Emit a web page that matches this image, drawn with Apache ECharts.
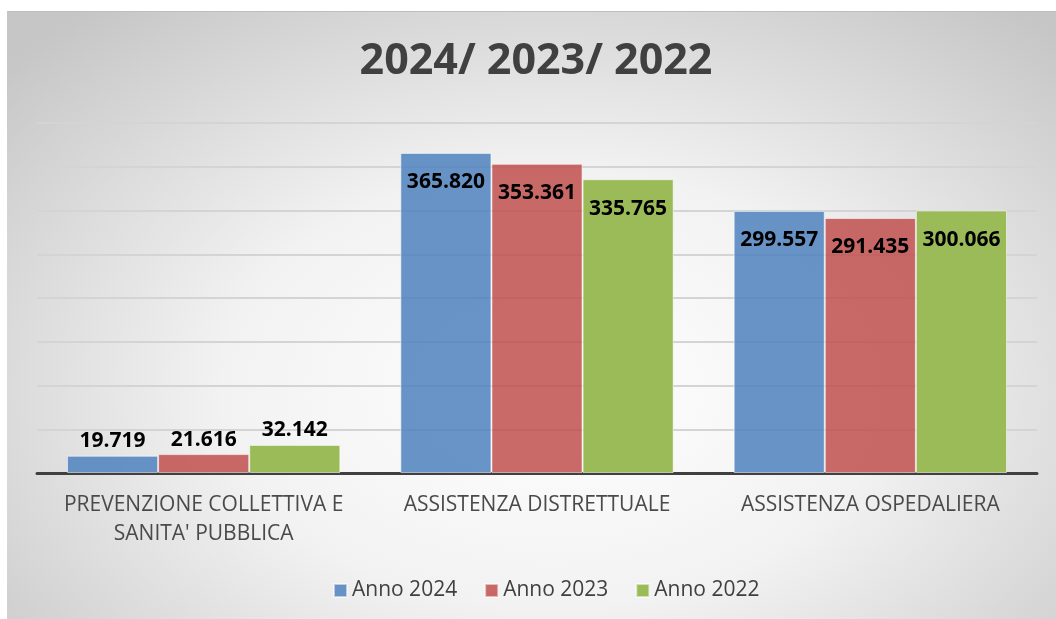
<!DOCTYPE html>
<html>
<head>
<meta charset="utf-8">
<script src="https://cdn.jsdelivr.net/npm/echarts@6/dist/echarts.min.js"></script>
<style>
  html, body { margin: 0; padding: 0; background: #fff; }
  #bg {
    position: absolute; left: 7px; top: 11px; width: 1049px; height: 608px;
    border-top: 1px solid #bdbdbd;
    background: radial-gradient(ellipse 70% 80% at 52% 62%, #ffffff 0%, #f2f2f2 45%, #c6c6c6 100%);
  }
  #chart { position: absolute; left: 0; top: 0; width: 1056px; height: 619px; }
</style>
</head>
<body>
<div id="bg"></div>
<div id="chart"></div>
<script>
// categorie e valori (migliaia, separatore italiano)
const categories = ['PREVENZIONE COLLETTIVA E\nSANITA\' PUBBLICA', 'ASSISTENZA DISTRETTUALE', 'ASSISTENZA OSPEDALIERA']
const anno2024 = [19719, 365820, 299557]
const anno2023 = [21616, 353361, 291435]
const anno2022 = [32142, 335765, 300066]
const seriesNames = ['Anno 2024', 'Anno 2023', 'Anno 2022']

const fmt = v => String(v).replace(/\B(?=(\d{3})+(?!\d))/g, '.')

function barData(values) {
  // prima categoria: etichetta sopra la barra, le altre dentro
  return values.map((v, i) => ({
    value: v,
    label: i === 0 ? { position: 'top', distance: 4 } : { position: 'insideTop', distance: 19 }
  }))
}

function makeSeries(name, values, color) {
  return {
    name: name,
    type: 'bar',
    barGap: '0%',
    barCategoryGap: '18%',
    itemStyle: { color: color, borderColor: 'rgba(255,255,255,0.55)', borderWidth: 1 },
    label: {
      show: true,
      color: '#000',
      fontFamily: 'Open Sans',
      fontWeight: 'bold',
      fontSize: 21,
      formatter: p => fmt(p.value)
    },
    data: barData(values)
  }
}

const chart = echarts.init(document.getElementById('chart'))
chart.setOption({
  backgroundColor: 'transparent',
  animation: false,
  title: {
    text: '2024/ 2023/ 2022',
    left: 531,
    textAlign: 'center',
    top: 35,
    textStyle: { fontFamily: 'Open Sans', fontWeight: 'bold', fontSize: 43, color: '#404040' }
  },
  legend: {
    top: 575,
    left: 328,
    itemWidth: 13,
    itemHeight: 13,
    itemGap: 27,
    icon: 'rect',
    textStyle: { fontFamily: 'Open Sans', fontSize: 21, color: '#404040' },
    data: seriesNames
  },
  grid: { left: 37, right: 19, top: 123, bottom: 146 },
  xAxis: {
    type: 'category',
    data: categories,
    axisLine: { lineStyle: { color: '#404040', width: 3 } },
    axisTick: { show: false },
    axisLabel: {
      interval: 0,
      margin: 18,
      fontFamily: 'Open Sans',
      fontSize: 21,
      lineHeight: 29,
      color: '#4a4a4a'
    }
  },
  yAxis: {
    type: 'value',
    min: 0,
    max: 400000,
    interval: 50000,
    axisLabel: { show: false },
    axisLine: { show: false },
    axisTick: { show: false },
    splitLine: { lineStyle: { color: '#d4d4d4', width: 2 } }
  },
  series: [
    makeSeries(seriesNames[0], anno2024, 'rgba(79,129,189,0.85)'),
    makeSeries(seriesNames[1], anno2023, 'rgba(192,80,77,0.85)'),
    makeSeries(seriesNames[2], anno2022, '#9bbb59')
  ]
})
</script>
</body>
</html>
